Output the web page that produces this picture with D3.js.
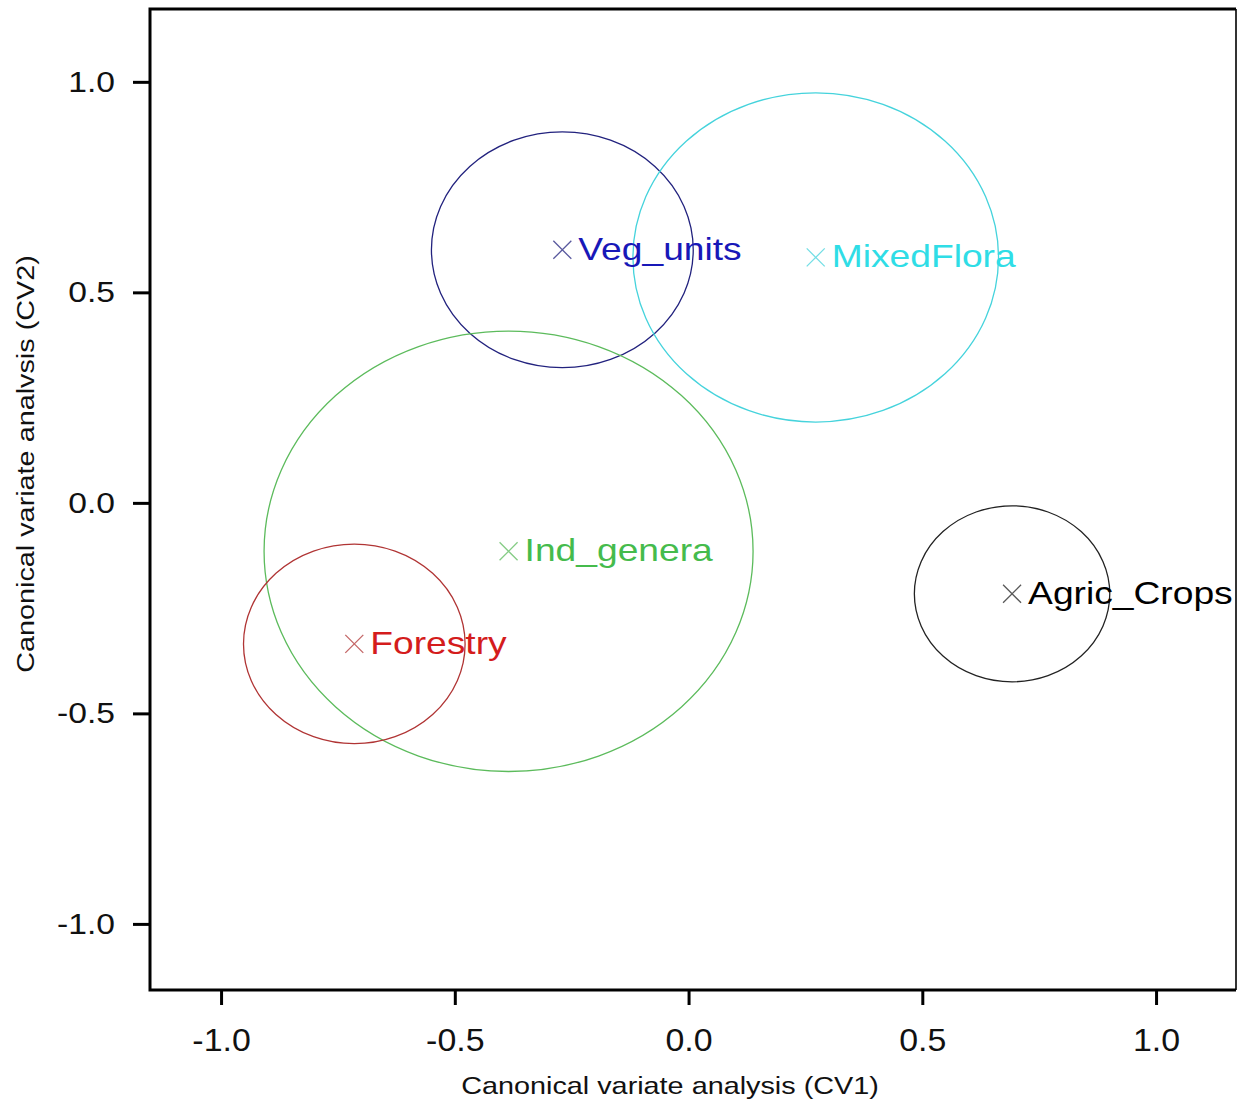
<!DOCTYPE html>
<html>
<head>
<meta charset="utf-8">
<script src="https://cdn.jsdelivr.net/npm/d3@7/dist/d3.min.js"></script>
<style>
  body { margin: 0; background: #fff; }
  svg { display: block; font-family: "Liberation Sans", Arial, sans-serif; }
</style>
</head>
<body>
<div id="chart"></div>
<script>
// canonical variate groups
const groups = ["Veg_units", "MixedFlora", "Ind_genera", "Forestry", "Agric_Crops"];
const cv1 = [-0.270, 0.272, -0.385, -0.715, 0.692];
const cv2 = [0.601, 0.583, -0.115, -0.335, -0.216];
const radius = [0.280, 0.391, 0.523, 0.237, 0.209];
const xTicks = [-1.0, -0.5, 0.0, 0.5, 1.0];
const yTicks = [-1.0, -0.5, 0.0, 0.5, 1.0];

const textColors = ["#1818b8", "#2fdde6", "#45bb4c", "#d41c1c", "#000000"];
const ringColors = ["#22227e", "#45d3dc", "#5cbb5c", "#b03434", "#222222"];

const width = 1238;
const height = 1104;

const svg = d3.select("#chart")
  .append("svg")
  .attr("width", width)
  .attr("height", height);

const x = d3.scaleLinear().domain([-1.152, 1.171]).range([150, 1236]);
const y = d3.scaleLinear().domain([-1.157, 1.173]).range([990, 9]);

const fmt = d => d3.format(".1f")(d).replace("\u2212", "-");

// frame
svg.append("line")
  .attr("x1", 1236).attr("x2", 1236).attr("y1", 9).attr("y2", 990)
  .attr("stroke", "#333").attr("stroke-width", 2);
svg.append("path")
  .attr("d", "M1236,9H150V990H1236")
  .attr("fill", "none")
  .attr("stroke", "#000")
  .attr("stroke-width", 3);

// axes
const xAxis = svg.append("g")
  .attr("transform", "translate(0,990)")
  .call(d3.axisBottom(x).tickValues(xTicks).tickFormat(fmt).tickSize(15).tickPadding(23));
xAxis.select(".domain").remove();
xAxis.selectAll("line").attr("stroke", "#000").attr("stroke-width", 3);
xAxis.selectAll("text")
  .attr("fill", "#111")
  .style("font-size", "32px")
  .style("transform-box", "fill-box")
  .style("transform-origin", "center")
  .style("transform", "scaleX(1.06)");

const yAxis = svg.append("g")
  .attr("transform", "translate(150,0)")
  .call(d3.axisLeft(y).tickValues(yTicks).tickFormat(fmt).tickSize(17).tickPadding(18));
yAxis.select(".domain").remove();
yAxis.selectAll("line").attr("stroke", "#000").attr("stroke-width", 3);
yAxis.selectAll("text")
  .attr("fill", "#111")
  .style("font-size", "29px")
  .style("transform-box", "fill-box")
  .style("transform-origin", "right center")
  .style("transform", "scaleX(1.16)");

// axis titles
svg.append("text")
  .attr("transform", "translate(670,1094) scale(1.2,1)")
  .attr("text-anchor", "middle")
  .style("font-size", "24px")
  .attr("fill", "#111")
  .text("Canonical variate analysis (CV1)");

svg.append("text")
  .attr("transform", "translate(34,464) rotate(-90) scale(1.2,1)")
  .attr("text-anchor", "middle")
  .style("font-size", "24px")
  .attr("fill", "#111")
  .text("Canonical variate analvsis (CV2)");

const data = groups.map((g, i) => ({
  name: g, cx: cv1[i], cy: cv2[i], r: radius[i],
  text: textColors[i], ring: ringColors[i]
}));

const plot = svg.append("g");

// confidence circles
plot.selectAll("ellipse")
  .data(data)
  .join("ellipse")
  .attr("cx", d => x(d.cx))
  .attr("cy", d => y(d.cy))
  .attr("rx", d => x(d.cx + d.r) - x(d.cx))
  .attr("ry", d => y(d.cy) - y(d.cy + d.r))
  .attr("fill", "none")
  .attr("stroke", d => d.ring)
  .attr("stroke-width", 1.3);

// group means
plot.selectAll("path.mean")
  .data(data)
  .join("path")
  .attr("class", "mean")
  .attr("d", d => {
    const px = x(d.cx), py = y(d.cy), s = 9;
    return `M${px - s},${py - s}L${px + s},${py + s}M${px - s},${py + s}L${px + s},${py - s}`;
  })
  .attr("stroke", d => d.ring)
  .attr("stroke-opacity", 0.75)
  .attr("stroke-width", 1.3);

plot.selectAll("text.lab")
  .data(data)
  .join("text")
  .attr("class", "lab")
  .attr("transform", d => `translate(${x(d.cx) + 16},${y(d.cy) + 10}) scale(1.2,1)`)
  .attr("fill", d => d.text)
  .style("font-size", "31px")
  .text(d => d.name);
</script>
</body>
</html>
